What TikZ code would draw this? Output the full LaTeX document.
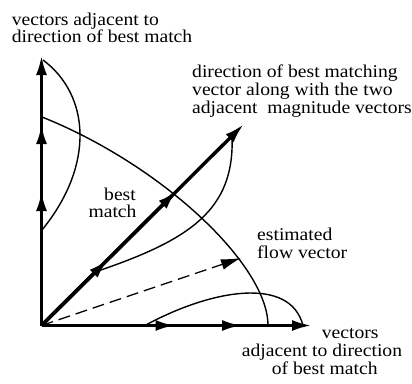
\documentclass[tikz,border=0pt]{standalone}
\usepackage{fontspec}
\setmainfont{Liberation Serif}[FakeStretch=1.09]
\usetikzlibrary{arrows.meta}
\begin{document}
\begin{tikzpicture}[x=1pt,y=-1pt,
  vec/.style={line width=3.4pt,-{Latex[length=20pt,width=11pt]}},
  dist/.style={line width=1.4pt},
  est/.style={line width=1.3pt,dash pattern=on 12pt off 6pt,-{Latex[length=20pt,width=11pt]}},
  lbl/.style={font=\fontsize{18}{18}\selectfont,inner sep=0pt}]
\useasboundingbox (0,0) rectangle (412,383);
% origin and vector tips
\coordinate (O) at (41.5,325.5);
\coordinate (v1) at (41.5,191);
\coordinate (v2) at (41.5,124);
\coordinate (v3) at (41.5,55);
\coordinate (h1) at (175.5,325.5);
\coordinate (h2) at (242,325.5);
\coordinate (h3) at (312,325.5);
\coordinate (d1) at (108,259.5);
\coordinate (d2) at (177,190.5);
\coordinate (d3) at (244,124);
\coordinate (e) at (241,258);
% distributions and arc
\draw[dist] (42,117) .. controls (162,165) and (268,265) .. (268,325.5);
\draw[dist] (42,230) .. controls (95,165) and (90,95) .. (43,60);
\draw[dist] (145,325.5) .. controls (210,290) and (290,275) .. (303,325.5);
\draw[dist] (95,272) .. controls (190,240) and (235,210) .. (232,135.9);
% estimated flow vector
\draw[est] (O) -- (e);
% vectors
\draw[vec] (O) -- (v3);
\draw[vec] (O) -- (v2);
\draw[vec] (O) -- (v1);
\draw[vec] (O) -- (h3);
\draw[vec] (O) -- (h2);
\draw[vec] (O) -- (h1);
\draw[vec] (O) -- (d3);
\draw[vec] (O) -- (d2);
\draw[vec] (O) -- (d1);
% labels
\node[lbl,anchor=base west] (ta1) at (11.7,25) {vectors adjacent to};
\node[lbl,anchor=base west] (ta2) at (11.7,42) {direction of best match};
\node[lbl,anchor=base west] (tb1) at (192,77) {direction of best matching};
\node[lbl,anchor=base west] (tb2) at (192,95) {vector along with the two};
\node[lbl,anchor=base west] (tb3) at (192,113) {adjacent\ \ magnitude vectors};
\node[lbl,anchor=base east] (tc1) at (136,200) {best};
\node[lbl,anchor=base east] (tc2) at (136.7,217) {match};
\node[lbl,anchor=base west] (td1) at (257,240) {estimated};
\node[lbl,anchor=base west] (td2) at (257,258) {flow vector};
\node[lbl,anchor=base west] (te1) at (321.7,338) {vectors};
\node[lbl,anchor=base west] (te2) at (241.7,356) {adjacent to direction};
\node[lbl,anchor=base west] (te3) at (271.7,374) {of best match};
\end{tikzpicture}
\end{document}
